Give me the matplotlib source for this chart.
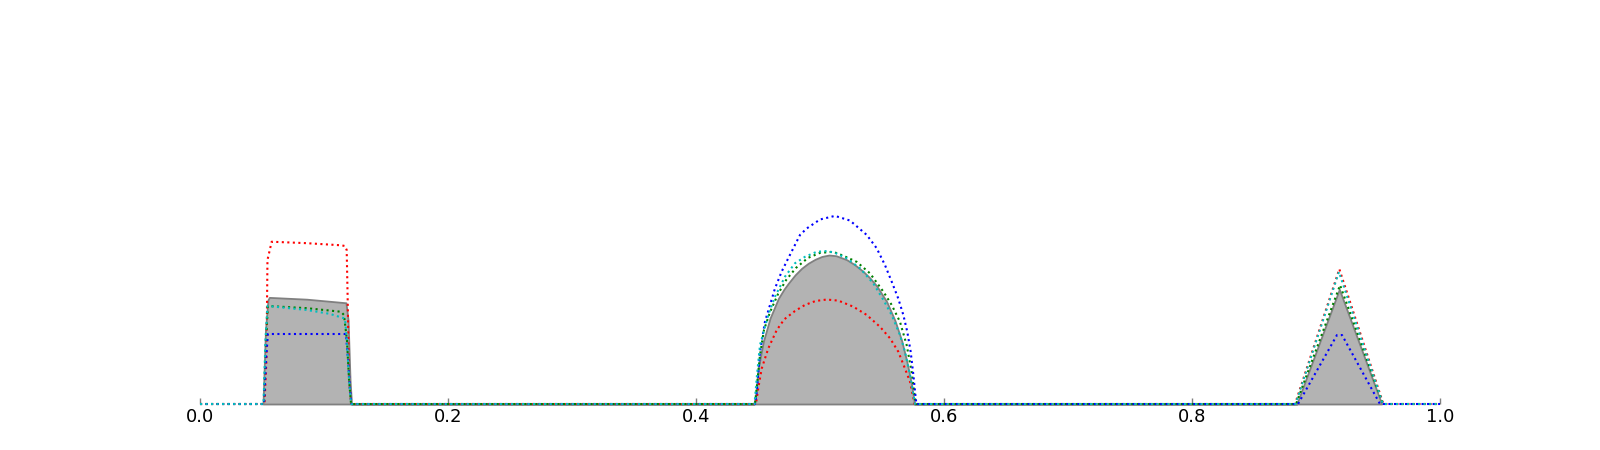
import numpy as np
import matplotlib
matplotlib.use("Agg")
import matplotlib.pyplot as plt

# ---- data (x in [0,1], y in arbitrary units) ----
gray_x = [0.0, 0.0508, 0.0528, 0.0548, 0.0559, 0.0860, 0.1177, 0.1194, 0.1210, 0.1222,
          0.4468, 0.4484, 0.4502, 0.4543, 0.4597, 0.4664, 0.4710, 0.4744, 0.4800, 0.4852,
          0.4905, 0.4960, 0.5015, 0.5073, 0.5130, 0.5215, 0.5280, 0.5349, 0.5400, 0.5457,
          0.5538, 0.5605, 0.5659, 0.5699, 0.5739, 0.5762,
          0.8845, 0.9188, 0.9530, 1.0]
gray_y = [0.0, 0.0, 0.206, 0.290, 0.297, 0.292, 0.282, 0.234, 0.067, 0.0,
          0.0, 0.030, 0.099, 0.174, 0.239, 0.294, 0.320, 0.336, 0.360, 0.378,
          0.392, 0.403, 0.411, 0.415, 0.413, 0.402, 0.388, 0.369, 0.352, 0.329,
          0.285, 0.232, 0.176, 0.120, 0.053, 0.0,
          0.0, 0.3195, 0.0, 0.0]

red_x = [0.0, 0.0520, 0.0536, 0.0544, 0.0578, 0.0860, 0.1142, 0.1169, 0.1183, 0.1191, 0.1202, 0.1218,
         0.4484, 0.4502, 0.4530, 0.4583, 0.4651, 0.4712, 0.4798, 0.4879, 0.4965, 0.5054,
         0.5148, 0.5269, 0.5377, 0.5484, 0.5565, 0.5631, 0.5685, 0.5726, 0.5753, 0.5762,
         0.8831, 0.9188, 0.9543, 1.0]
red_y = [0.0, 0.0, 0.123, 0.401, 0.452, 0.448, 0.442, 0.440, 0.429, 0.290, 0.067, 0.0,
         0.0, 0.044, 0.099, 0.155, 0.206, 0.236, 0.259, 0.276, 0.287, 0.291,
         0.288, 0.271, 0.248, 0.215, 0.183, 0.146, 0.099, 0.062, 0.016, 0.0,
         0.0, 0.376, 0.0, 0.0]

green_x = [0.0, 0.0516, 0.0532, 0.0548, 0.0860, 0.1137, 0.1161, 0.1185, 0.1202, 0.1218,
           0.4476, 0.4496, 0.4516, 0.4548, 0.4597, 0.4661, 0.4726, 0.4806, 0.4903, 0.5000,
           0.5107, 0.5188, 0.5296, 0.5403, 0.5511, 0.5578, 0.5645, 0.5699, 0.5739, 0.5766, 0.5774,
           0.8839, 0.9194, 0.9540, 1.0]
green_y = [0.0, 0.0, 0.178, 0.273, 0.267, 0.257, 0.248, 0.178, 0.067, 0.0,
           0.0, 0.067, 0.136, 0.206, 0.256, 0.306, 0.345, 0.379, 0.407, 0.421,
           0.424, 0.413, 0.396, 0.364, 0.313, 0.276, 0.229, 0.164, 0.090, 0.016, 0.0,
           0.0, 0.331, 0.0, 0.0]

blue_x = [0.0, 0.0516, 0.0532, 0.0548, 0.1177, 0.1194, 0.1210, 0.1222,
          0.4476, 0.4490, 0.4516, 0.4556, 0.4597, 0.4637, 0.4691, 0.4744, 0.4798, 0.4839,
          0.4893, 0.5000, 0.5121, 0.5242, 0.5377, 0.5457, 0.5524, 0.5578, 0.5631, 0.5672,
          0.5704, 0.5731, 0.5753, 0.5772, 0.5778,
          0.8855, 0.9169, 0.9210, 0.9516, 1.0]
blue_y = [0.0, 0.0, 0.123, 0.195, 0.195, 0.123, 0.039, 0.0,
          0.0, 0.034, 0.146, 0.229, 0.276, 0.322, 0.369, 0.406, 0.443, 0.471,
          0.489, 0.514, 0.524, 0.511, 0.471, 0.434, 0.387, 0.341, 0.294, 0.248,
          0.201, 0.146, 0.081, 0.016, 0.0,
          0.0, 0.192, 0.192, 0.0, 0.0]

cyan_x = [0.0, 0.0512, 0.0528, 0.0544, 0.0860, 0.1048, 0.1169, 0.1185, 0.1202, 0.1218,
          0.4472, 0.4492, 0.4516, 0.4583, 0.4637, 0.4718, 0.4798, 0.4879, 0.4973, 0.5054,
          0.5121, 0.5215, 0.5323, 0.5430, 0.5511, 0.5578, 0.5645, 0.5685, 0.5726, 0.5758, 0.5766,
          0.8835, 0.9185, 0.9540, 1.0]
cyan_y = [0.0, 0.0, 0.178, 0.273, 0.262, 0.251, 0.238, 0.178, 0.067, 0.0,
          0.0, 0.081, 0.164, 0.248, 0.299, 0.355, 0.392, 0.410, 0.424, 0.426,
          0.421, 0.406, 0.378, 0.336, 0.290, 0.248, 0.192, 0.146, 0.081, 0.016, 0.0,
          0.0, 0.368, 0.0, 0.0]

xticks = [0.0, 0.2, 0.4, 0.6, 0.8, 1.0]
xticklabels = ["0.0", "0.2", "0.4", "0.6", "0.8", "1.0"]

# ---- figure ----
fig = plt.figure(figsize=(16, 4.5), dpi=100)
ax = fig.add_axes([0.125, 0.1022, 0.775, 0.7978])

gx = np.array(gray_x)
gy = np.array(gray_y)
pos = gy > 0
mask = pos | np.roll(pos, 1) | np.roll(pos, -1)
ax.fill_between(gx, 0, gy, where=mask, facecolor="#b3b3b3", edgecolor="#808080",
                linewidth=1.3, clip_on=False, zorder=1)

for xs, ys, col in [(red_x, red_y, "red"), (green_x, green_y, "green"),
                    (blue_x, blue_y, "blue"), (cyan_x, cyan_y, "c")]:
    ax.plot(xs, ys, linestyle=":", color=col, linewidth=1.5, clip_on=False, zorder=2)

ax.set_xlim(0, 1)
ax.set_ylim(0, 1)
for s in ax.spines.values():
    s.set_visible(False)
ax.set_yticks([])
ax.set_xticks(xticks)
ax.set_xticklabels(xticklabels)
ax.tick_params(axis="x", direction="in", length=4, width=1, color="gray",
               labelsize=13, pad=3)

fig.savefig("out.png", dpi=100)
